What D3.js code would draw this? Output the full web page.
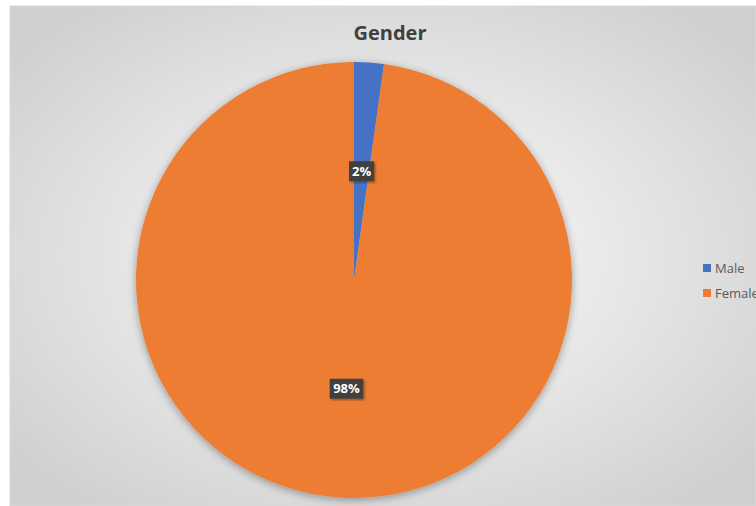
<!DOCTYPE html>
<html>
<head>
<meta charset="utf-8">
<script src="https://cdn.jsdelivr.net/npm/d3@7"></script>
<style>
  body { margin: 0; background: #fff; }
  svg { display: block; font-family: "Open Sans", "Noto Sans", sans-serif; }
</style>
</head>
<body>
<div id="chart"></div>
<script>
const categories = ["Male", "Female"];
const values = [2.2, 97.8];
const colors = ["#4472c4", "#ed7d31"];
const title = "Gender";

const width = 756, height = 506;
const cx = 354, cy = 280, radius = 218;

const svg = d3.select("#chart").append("svg")
    .attr("width", width).attr("height", height);

const defs = svg.append("defs");
const grad = defs.append("radialGradient").attr("id", "bg")
    .attr("cx", "50%").attr("cy", "50%").attr("r", "65%");
grad.append("stop").attr("offset", "0%").attr("stop-color", "#ffffff");
grad.append("stop").attr("offset", "100%").attr("stop-color", "#cfcfcf");

const shadow = defs.append("filter").attr("id", "shadow")
    .attr("x", "-20%").attr("y", "-20%").attr("width", "140%").attr("height", "140%");
shadow.append("feDropShadow").attr("dx", 0).attr("dy", 2).attr("stdDeviation", 4)
    .attr("flood-color", "#000").attr("flood-opacity", 0.35);

const lblShadow = defs.append("filter").attr("id", "lblshadow");
lblShadow.append("feDropShadow").attr("dx", 1.5).attr("dy", 1.5).attr("stdDeviation", 1)
    .attr("flood-color", "#000").attr("flood-opacity", 0.35);

// chart area background
svg.append("rect").attr("x", 10).attr("y", 6).attr("width", width - 10).attr("height", height - 6)
    .attr("fill", "url(#bg)").attr("stroke", "#d9d9d9");

svg.append("text")
    .attr("x", 390).attr("y", 40)
    .attr("text-anchor", "middle")
    .attr("font-size", 20).attr("font-weight", "bold")
    .attr("fill", "#404040")
    .text(title);

const pie = d3.pie().sort(null).value(d => d);
const arcs = pie(values);
const arc = d3.arc().innerRadius(0).outerRadius(radius);

const g = svg.append("g").attr("transform", `translate(${cx},${cy})`);

g.append("g").attr("filter", "url(#shadow)")
  .selectAll("path")
  .data(arcs)
  .enter().append("path")
    .attr("d", arc)
    .attr("fill", (d, i) => colors[i]);

const total = d3.sum(values);
const labelArc = d3.arc().innerRadius(radius * 0.5).outerRadius(radius * 0.5);

const labels = g.selectAll(".lbl")
    .data(arcs)
    .enter().append("g")
    .attr("class", "lbl")
    .attr("transform", d => {
        const [x, y] = labelArc.centroid(d);
        return `translate(${x},${y})`;
    });

labels.each(function(d) {
    const sel = d3.select(this);
    const txt = Math.round(d.data / total * 100) + "%";
    const w = txt.length * 8.5 + 8;
    sel.append("rect")
        .attr("x", -w / 2).attr("y", -10).attr("width", w).attr("height", 20)
        .attr("fill", "#404040").attr("filter", "url(#lblshadow)");
    sel.append("text")
        .attr("text-anchor", "middle").attr("dy", "0.35em")
        .attr("font-size", 13).attr("font-weight", "bold")
        .attr("fill", "#fff")
        .text(txt);
});

const legend = svg.append("g").attr("transform", "translate(703,264)");
const items = legend.selectAll("g")
    .data(categories)
    .enter().append("g")
    .attr("transform", (d, i) => `translate(0,${i * 25})`);
items.append("rect").attr("width", 8).attr("height", 8)
    .attr("fill", (d, i) => colors[i]);
items.append("text").attr("x", 12).attr("y", 4).attr("dy", "0.35em")
    .attr("font-size", 13).attr("fill", "#595959")
    .text(d => d);
</script>
</body>
</html>
